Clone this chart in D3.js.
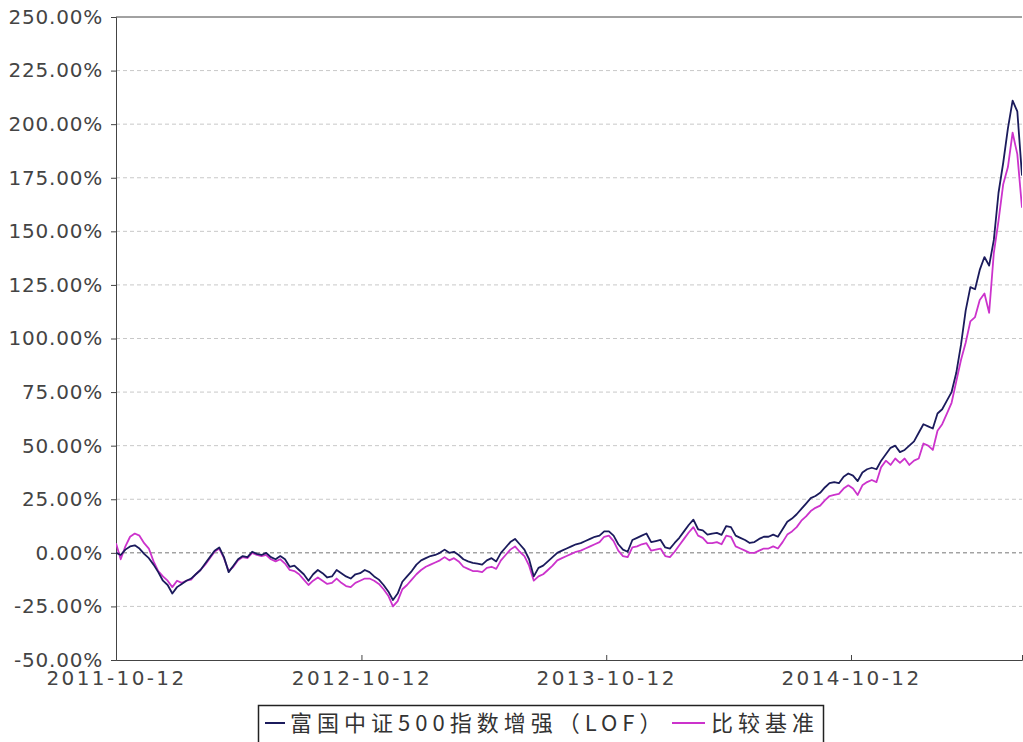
<!DOCTYPE html>
<html>
<head>
<meta charset="utf-8">
<script src="https://cdn.jsdelivr.net/npm/d3@7"></script>
<style>
body { margin: 0; background: #fff; }
</style>
</head>
<body>
<script>
var startDate = "2011-10-12";
var stepDays = 7;

var fundValues = [
  0, -1, 1.5, 3, 3.5, 2, -0.5, -2.5, -5.5, -9,
  -13, -15, -19, -16, -14.5, -13, -12, -10, -8, -5,
  -2, 1, 2.5, -2, -9, -6, -3, -1.5, -2, 0.5,
  -0.5, -1, 0, -2, -3, -1.5, -3, -6.5, -6, -8,
  -10, -13, -10, -8, -9.5, -11.5, -11, -8, -9.5, -11,
  -12, -10, -9.5, -8, -9, -11, -12.5, -15, -18, -22,
  -19, -13.5, -11, -8.5, -5.5, -3.5, -2.5, -1.5, -1, 0,
  1.5, 0, 0.5, -1, -3, -4, -4.7, -5, -5.5, -3.5,
  -2.5, -4, 0, 2.5, 5, 6.5, 4, 1.5, -3, -11,
  -7, -6, -4, -2, 0, 1, 2, 3, 4, 4.5,
  5.5, 6.5, 7.5, 8, 10, 10, 8, 4, 1.5, 0.5,
  6, 7, 8, 9, 5, 5.5, 6, 2.5, 2, 4.6,
  7, 10, 13, 15.5, 11, 10.5, 8.5, 9, 9.3, 8.4,
  12.5, 12, 8, 7, 6, 4.6, 5, 6.5, 7.5, 7.5,
  8.5, 7.5, 11, 14.5, 16, 18, 20.5, 23, 25.5, 26.5,
  28, 30.5, 32.5, 33, 32.5, 35.5, 37, 36, 33.5, 37.5,
  39, 39.7, 39, 43, 46, 49, 50, 47, 48, 50,
  52, 56, 60, 59, 58, 65, 67, 71, 75, 84,
  97, 113, 124, 123, 132, 138, 134, 146, 168, 182,
  198, 211, 206, 176
];

var benchValues = [
  4.5, -3, 3, 7.5, 9, 8, 4.5, 2, -4, -8.5,
  -11, -13, -16, -13, -14, -13, -12.5, -10, -8, -5.5,
  -2.5, 0.5, 2, -2.5, -8.5, -6.5, -3.5, -2, -2.5, 0,
  -1, -1.5, -1, -3, -4, -3, -5, -8, -8.5, -10,
  -12.5, -15, -13, -11.5, -13, -14.5, -14, -12, -14, -15.5,
  -16, -14, -13, -12, -12, -13, -14.5, -17, -20, -25,
  -22.5, -17, -15, -12.5, -10, -8, -6.5, -5.5, -4.5, -3.5,
  -2, -3.5, -2.5, -4, -6.5, -7.5, -8.5, -8.5, -9, -7,
  -6.5, -7.5, -3.5, -1, 1.5, 3, 0.5, -1.5, -6, -13,
  -11, -10, -8, -6, -3.5, -2.5, -1.5, -0.5, 0.5, 1,
  2, 3, 4, 5, 7.5, 8, 5.5, 1, -1.5, -2,
  2.5, 3, 4, 4.5, 1, 1.5, 2, -1.5, -2, 0.5,
  3.5, 6.5, 9.5, 12, 8, 7, 4.5, 4.5, 5, 4,
  8, 7.5, 3, 2, 1, 0, 0, 1, 2, 2,
  3, 2, 5, 8.5, 10, 12, 15, 17, 19.5, 21,
  22, 24.5, 26.5, 27, 27.5, 30, 31.5, 30, 27, 31.5,
  33, 34, 33, 40, 43, 41, 44, 42, 44, 41,
  43, 44, 51, 50, 48, 57, 60, 65, 70, 80,
  90, 98, 108, 110, 118, 121, 112, 140, 155, 172,
  180, 196, 186, 161
];

var yTicks = [-50, -25, 0, 25, 50, 75, 100, 125, 150, 175, 200, 225, 250];
var xTickLabels = ["2011-10-12", "2012-10-12", "2013-10-12", "2014-10-12"];
var seriesNames = ["富国中证500指数增强（LOF）", "比较基准"];
var seriesColors = ["#1b1b5c", "#cc33cc"];

var width = 1023, height = 742;
var plotLeft = 116, plotRight = 1022, plotTop = 17, plotBottom = 660;

var parse = d3.timeParse("%Y-%m-%d");
var start = parse(startDate);
var dates = fundValues.map(function(d, i) { return d3.timeDay.offset(start, i * stepDays); });

var svg = d3.select("body").append("svg")
    .attr("width", width)
    .attr("height", height)
    .style("display", "block");

var x = d3.scaleTime()
    .domain([start, dates[dates.length - 1]])
    .range([plotLeft, plotRight]);
var y = d3.scaleLinear()
    .domain([-50, 250])
    .range([plotBottom, plotTop]);

// dashed grid lines, zero line a bit darker
svg.append("g").selectAll("line")
    .data(yTicks.filter(function(d) { return d > -50 && d < 250; }))
    .enter().append("line")
    .attr("x1", plotLeft).attr("x2", plotRight)
    .attr("y1", function(d) { return y(d); })
    .attr("y2", function(d) { return y(d); })
    .attr("stroke", function(d) { return d === 0 ? "#777" : "#c8c8c8"; })
    .attr("stroke-dasharray", "4,3")
    .attr("stroke-width", 1);

// y axis
var yAxis = svg.append("g")
    .attr("transform", "translate(" + plotLeft + ",0)")
    .call(d3.axisLeft(y).tickValues(yTicks).tickSize(5).tickPadding(8)
        .tickFormat(function(d) { return d.toFixed(2) + "%"; }));
yAxis.select(".domain").attr("stroke", "#444");
yAxis.selectAll(".tick line").attr("stroke", "#444");
yAxis.selectAll("text")
    .attr("fill", "#444")
    .style("font-family", "'DejaVu Sans', sans-serif")
    .style("font-size", "20px")
    .style("letter-spacing", "0.8px");

// x axis, ticks pointing up into the plot
var xAxis = svg.append("g")
    .attr("transform", "translate(0," + plotBottom + ")")
    .call(d3.axisBottom(x).tickValues(xTickLabels.map(parse)).tickSize(-5).tickPadding(11)
        .tickFormat(d3.timeFormat("%Y-%m-%d")));
xAxis.select(".domain").attr("stroke", "#444");
xAxis.selectAll(".tick line").attr("stroke", "#444");
xAxis.selectAll("text")
    .attr("fill", "#444")
    .style("font-family", "'DejaVu Sans', sans-serif")
    .style("font-size", "20px")
    .style("letter-spacing", "2.4px");

// top border
svg.append("line")
    .attr("x1", plotLeft).attr("x2", plotRight)
    .attr("y1", plotTop).attr("y2", plotTop)
    .attr("stroke", "#444");

svg.append("clipPath").attr("id", "plot")
    .append("rect")
    .attr("x", plotLeft).attr("y", plotTop)
    .attr("width", plotRight - plotLeft).attr("height", plotBottom - plotTop);

var line = d3.line()
    .x(function(d) { return x(d[0]); })
    .y(function(d) { return y(d[1]); });

var series = [benchValues, fundValues];
var colors = [seriesColors[1], seriesColors[0]];
svg.append("g").attr("clip-path", "url(#plot)")
    .selectAll("path")
    .data(series)
    .enter().append("path")
    .attr("d", function(vals) { return line(vals.map(function(v, i) { return [dates[i], v]; })); })
    .attr("fill", "none")
    .attr("stroke", function(d, i) { return colors[i]; })
    .attr("stroke-width", 1.8)
    .attr("stroke-linejoin", "round");

// legend box at the bottom
var legend = svg.append("g");
legend.append("rect")
    .attr("x", 258.5).attr("y", 705.5)
    .attr("width", 565).attr("height", 50)
    .attr("fill", "#fff")
    .attr("stroke", "#222")
    .attr("stroke-width", 1.5);

var legendItems = [
    { x1: 265, x2: 285, tx: 290, name: seriesNames[0], color: seriesColors[0] },
    { x1: 672, x2: 705, tx: 711, name: seriesNames[1], color: seriesColors[1] }
];
legendItems.forEach(function(it) {
    legend.append("line")
        .attr("x1", it.x1).attr("x2", it.x2)
        .attr("y1", 723).attr("y2", 723)
        .attr("stroke", it.color)
        .attr("stroke-width", 2);
    legend.append("text")
        .attr("x", it.tx).attr("y", 731)
        .attr("fill", "#333")
        .style("font-family", "'Noto Sans CJK SC', sans-serif")
        .style("font-size", "22px")
        .style("letter-spacing", "5px")
        .text(it.name);
});
</script>
</body>
</html>
